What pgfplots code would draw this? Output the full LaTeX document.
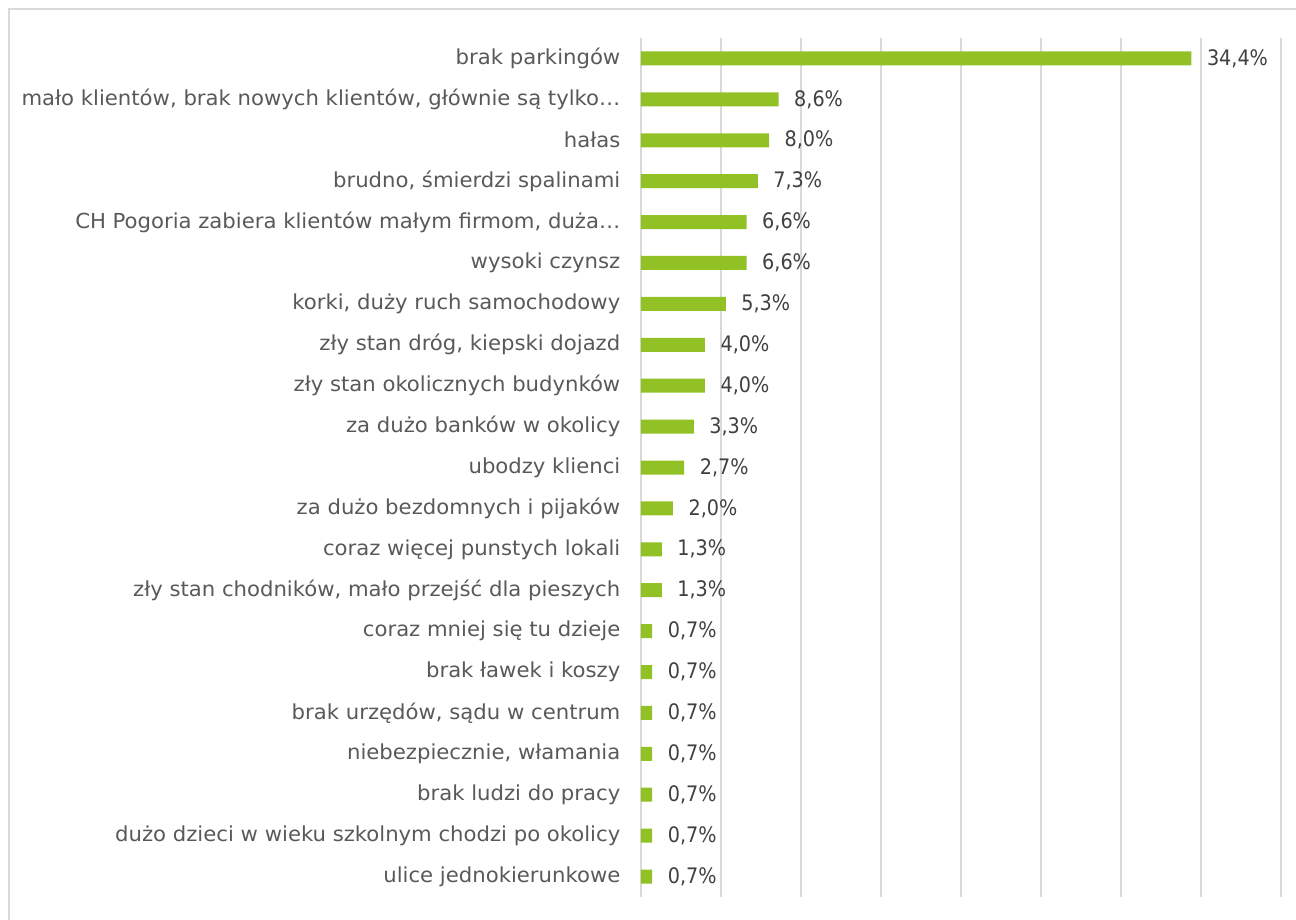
\documentclass[border=0pt]{standalone}
\usepackage{pgfplots}
\pgfplotsset{compat=1.18}
\usepackage{pgfplotstable}
\usepackage{fontspec}
\setmainfont{DejaVu Sans Condensed}
\newfontfamily\labfont[FakeStretch=1.14]{DejaVu Sans Condensed}
\definecolor{bargreen}{RGB}{146,193,38}
\definecolor{gridgray}{RGB}{217,217,217}
\definecolor{labgray}{RGB}{89,89,89}
\definecolor{datagray}{RGB}{64,64,64}
\pgfplotstableread{
y x
0 34.4
1 8.6
2 8.0
3 7.3
4 6.6
5 6.6
6 5.3
7 4.0
8 4.0
9 3.3
10 2.7
11 2.0
12 1.3
13 1.3
14 0.7
15 0.7
16 0.7
17 0.7
18 0.7
19 0.7
20 0.7
}\datatable
\begin{document}
\begin{tikzpicture}
\path[use as bounding box] (0,0) rectangle (972pt,690pt);
\draw[gridgray, line width=1.2pt] (6.75pt,-5pt) -- (6.75pt,683.25pt) -- (980pt,683.25pt);
\begin{axis}[
  at={(480.75pt,17.25pt)}, anchor=south west,
  scale only axis, width=480pt, height=644.25pt,
  xmin=0, xmax=40, ymin=-0.5, ymax=20.5, y dir=reverse,
  xbar, bar width=10.5pt,
  xtick={0,5,...,40}, xticklabels={},
  xmajorgrids, grid style={gridgray, line width=1.2pt},
  axis line style={draw=none}, tick style={draw=none},
  ytick={0,...,20},
  yticklabels={{brak parkingów},{mało klientów, brak nowych klientów, głównie są tylko…},{hałas},{brudno, śmierdzi spalinami},{CH Pogoria zabiera klientów małym firmom, duża…},{wysoki czynsz},{korki, duży ruch samochodowy},{zły stan dróg, kiepski dojazd},{zły stan okolicznych budynków},{za dużo banków w okolicy},{ubodzy klienci},{za dużo bezdomnych i pijaków},{coraz więcej punstych lokali},{zły stan chodników, mało przejść dla pieszych},{coraz mniej się tu dzieje},{brak ławek i koszy},{brak urzędów, sądu w centrum},{niebezpiecznie, włamania},{brak ludzi do pracy},{dużo dzieci w wieku szkolnym chodzi po okolicy},{ulice jednokierunkowe}},
  yticklabel style={font=\labfont\fontsize{15.5}{18}\selectfont, text=labgray, inner sep=0pt, anchor=east, xshift=-11pt},
  nodes near coords={\pgfmathprintnumber[fixed, fixed zerofill, precision=1, use comma, assume math mode=true]{\pgfplotspointmeta}\%},
  nodes near coords style={font=\fontsize{16}{19}\selectfont, text=datagray, inner sep=0pt, anchor=west, xshift=11.5pt},
  point meta=x,
  clip=false,
]
\addplot[fill=bargreen, draw=none] table[x=x, y=y] {\datatable};
\end{axis}
\end{tikzpicture}
\end{document}
